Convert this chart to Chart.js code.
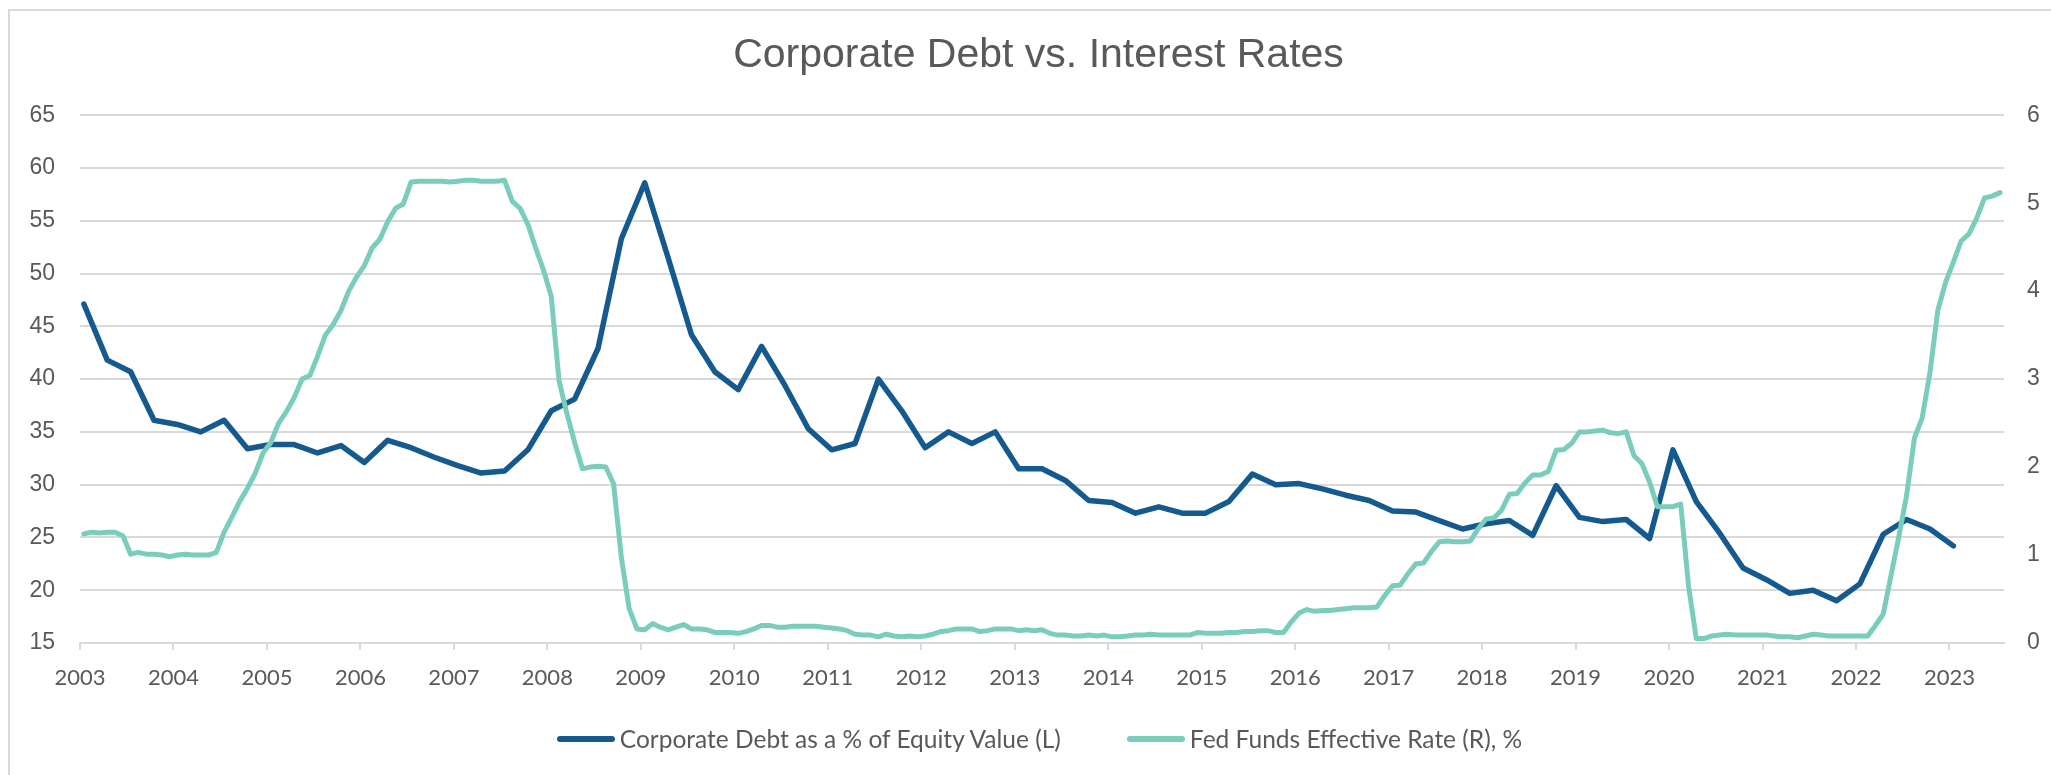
<!DOCTYPE html>
<html>
<head>
<meta charset="utf-8">
<title>Corporate Debt vs. Interest Rates</title>
<script src="https://cdn.jsdelivr.net/npm/chart.js@4.4.0/dist/chart.umd.min.js"></script>
<style>
  html, body { margin: 0; padding: 0; background: #fff; }
  #wrap { position: relative; width: 2051px; height: 775px; }
  #legend {
    position: absolute; left: 0; top: 724px; width: 2051px; box-sizing: border-box;
    padding-left: 28px; display: flex; justify-content: center;
    font: 24.5px Lato, "Open Sans", sans-serif; color: #595959; line-height: 30px;
  }
  #legend .item { display: flex; align-items: center; margin: 0 33px; white-space: nowrap; }
  #legend .swatch { width: 58px; height: 6px; border-radius: 3px; margin-right: 5px; }
</style>
</head>
<body>
<div id="wrap">
  <canvas id="chart" width="2051" height="775"></canvas>
  <div id="legend"></div>
</div>
<script>
// years shown on the x axis
const yearTicks = [2003, 2004, 2005, 2006, 2007, 2008, 2009, 2010, 2011, 2012, 2013,
                   2014, 2015, 2016, 2017, 2018, 2019, 2020, 2021, 2022, 2023];

// Corporate debt as a % of equity value, quarterly from Q1 2003 (left axis)
const debtPctEquity = [
  47.1, 41.8, 40.7, 36.1,   // 2003
  35.7, 35.0, 36.1, 33.4,   // 2004
  33.8, 33.8, 33.0, 33.7,   // 2005
  32.1, 34.2, 33.5, 32.6,   // 2006
  31.8, 31.1, 31.3, 33.3,   // 2007
  37.0, 38.1, 42.9, 53.3,   // 2008
  58.6, 51.5, 44.2, 40.7,   // 2009
  39.0, 43.1, 39.4, 35.3,   // 2010
  33.3, 33.9, 40.0, 37.0,   // 2011
  33.5, 35.0, 33.9, 35.0,   // 2012
  31.5, 31.5, 30.4, 28.5,   // 2013
  28.3, 27.3, 27.9, 27.3,   // 2014
  27.3, 28.4, 31.0, 30.0,   // 2015
  30.1, 29.6, 29.0, 28.5,   // 2016
  27.5, 27.4, 26.6, 25.8,   // 2017
  26.3, 26.6, 25.2, 29.9,   // 2018
  26.9, 26.5, 26.7, 24.9,   // 2019
  33.3, 28.4, 25.4, 22.1,   // 2020
  21.0, 19.7, 20.0, 19.0,   // 2021
  20.6, 25.3, 26.7, 25.8,   // 2022
  24.2                      // 2023
];

// Fed funds effective rate in %, monthly from Jan 2003 (right axis)
const fedFundsRate = [
  1.24, 1.26, 1.25, 1.26, 1.26, 1.22, 1.01, 1.03, 1.01, 1.01, 1.00, 0.98, // 2003
  1.00, 1.01, 1.00, 1.00, 1.00, 1.03, 1.26, 1.43, 1.61, 1.76, 1.93, 2.16, // 2004
  2.28, 2.50, 2.63, 2.79, 3.00, 3.04, 3.26, 3.50, 3.62, 3.78, 4.00, 4.16, // 2005
  4.29, 4.49, 4.59, 4.79, 4.94, 4.99, 5.24, 5.25, 5.25, 5.25, 5.25, 5.24, // 2006
  5.25, 5.26, 5.26, 5.25, 5.25, 5.25, 5.26, 5.02, 4.94, 4.76, 4.49, 4.24, // 2007
  3.94, 2.98, 2.61, 2.28, 1.98, 2.00, 2.01, 2.00, 1.81, 0.97, 0.39, 0.16, // 2008
  0.15, 0.22, 0.18, 0.15, 0.18, 0.21, 0.16, 0.16, 0.15, 0.12, 0.12, 0.12, // 2009
  0.11, 0.13, 0.16, 0.20, 0.20, 0.18, 0.18, 0.19, 0.19, 0.19, 0.19, 0.18, // 2010
  0.17, 0.16, 0.14, 0.10, 0.09, 0.09, 0.07, 0.10, 0.08, 0.07, 0.08, 0.07, // 2011
  0.08, 0.10, 0.13, 0.14, 0.16, 0.16, 0.16, 0.13, 0.14, 0.16, 0.16, 0.16, // 2012
  0.14, 0.15, 0.14, 0.15, 0.11, 0.09, 0.09, 0.08, 0.08, 0.09, 0.08, 0.09, // 2013
  0.07, 0.07, 0.08, 0.09, 0.09, 0.10, 0.09, 0.09, 0.09, 0.09, 0.09, 0.12, // 2014
  0.11, 0.11, 0.11, 0.12, 0.12, 0.13, 0.13, 0.14, 0.14, 0.12, 0.12, 0.24, // 2015
  0.34, 0.38, 0.36, 0.37, 0.37, 0.38, 0.39, 0.40, 0.40, 0.40, 0.41, 0.54, // 2016
  0.65, 0.66, 0.79, 0.90, 0.91, 1.04, 1.15, 1.16, 1.15, 1.15, 1.16, 1.30, // 2017
  1.41, 1.42, 1.51, 1.69, 1.70, 1.82, 1.91, 1.91, 1.95, 2.19, 2.20, 2.27, // 2018
  2.40, 2.40, 2.41, 2.42, 2.39, 2.38, 2.40, 2.13, 2.04, 1.83, 1.55, 1.55, // 2019
  1.55, 1.58, 0.65, 0.05, 0.05, 0.08, 0.09, 0.10, 0.09, 0.09, 0.09, 0.09, // 2020
  0.09, 0.08, 0.07, 0.07, 0.06, 0.08, 0.10, 0.09, 0.08, 0.08, 0.08, 0.08, // 2021
  0.08, 0.08, 0.20, 0.33, 0.77, 1.21, 1.68, 2.33, 2.56, 3.08, 3.78, 4.10, // 2022
  4.33, 4.57, 4.65, 4.83, 5.06, 5.08, 5.12                                // 2023
];

const startYear = 2003;
const axisEnd = 2023 + 7 / 12; // end of July 2023

// month index (0 = Jan 2003) -> decimal year, placed mid-month
function monthToYear(m) {
  return startYear + (m + 0.5) / 12;
}

const debtPoints = debtPctEquity.map((v, i) => ({ x: monthToYear(i * 3), y: v }));
const fedPoints = fedFundsRate.map((v, i) => ({ x: monthToYear(i), y: v }));

const gray = '#595959';
const gridGray = '#d9d9d9';

// thin frame along the top and left edge of the figure
const framePlugin = {
  id: 'frame',
  beforeDraw(chart) {
    const ctx = chart.ctx;
    ctx.save();
    ctx.strokeStyle = gridGray;
    ctx.lineWidth = 2;
    ctx.beginPath();
    ctx.moveTo(9, chart.height);
    ctx.lineTo(9, 10);
    ctx.lineTo(chart.width, 10);
    ctx.stroke();
    ctx.restore();
  }
};

// html legend under the plot, built from the datasets
const htmlLegend = {
  id: 'htmlLegend',
  afterUpdate(chart) {
    const box = document.getElementById('legend');
    box.innerHTML = '';
    chart.data.datasets.forEach(ds => {
      const item = document.createElement('div');
      item.className = 'item';
      const swatch = document.createElement('span');
      swatch.className = 'swatch';
      swatch.style.background = ds.borderColor;
      const text = document.createElement('span');
      text.textContent = ds.label;
      item.appendChild(swatch);
      item.appendChild(text);
      box.appendChild(item);
    });
  }
};

new Chart(document.getElementById('chart'), {
  type: 'line',
  data: {
    datasets: [
      {
        label: 'Corporate Debt as a % of Equity Value (L)',
        data: debtPoints,
        yAxisID: 'yLeft',
        borderColor: '#155a8e',
        borderWidth: 5.5,
        borderJoinStyle: 'round',
        borderCapStyle: 'round',
        pointRadius: 0,
        order: 1
      },
      {
        label: 'Fed Funds Effective Rate (R), %',
        data: fedPoints,
        yAxisID: 'yRight',
        borderColor: '#7acdbd',
        borderWidth: 5,
        borderJoinStyle: 'round',
        borderCapStyle: 'round',
        pointRadius: 0,
        order: 0
      }
    ]
  },
  options: {
    responsive: false,
    animation: false,
    layout: { padding: { top: 0, left: 26, right: 0, bottom: 66 } },
    plugins: {
      title: {
        display: true,
        text: 'Corporate Debt vs. Interest Rates',
        color: gray,
        font: { family: '"Liberation Sans", Arial, sans-serif', size: 41, weight: 'normal' },
        padding: { top: 31, bottom: 35 }
      },
      legend: { display: false },
      tooltip: { enabled: false }
    },
    scales: {
      x: {
        type: 'linear',
        min: startYear,
        max: axisEnd,
        afterBuildTicks: scale => { scale.ticks = yearTicks.map(y => ({ value: y })); },
        afterFit: scale => { scale.height = 66; },
        grid: { drawOnChartArea: false, drawTicks: true, tickLength: 7, color: gridGray, lineWidth: 2 },
        border: { display: true, color: gridGray, width: 2 },
        ticks: {
          color: gray,
          font: { family: 'Lato, "Open Sans", sans-serif', size: 22 },
          padding: 15,
          maxRotation: 0,
          autoSkip: false,
          callback: v => String(v)
        }
      },
      yLeft: {
        position: 'left',
        min: 15,
        max: 65,
        afterFit: scale => { scale.width = 54; },
        grid: { color: gridGray, lineWidth: 2, drawTicks: false },
        border: { display: false },
        ticks: {
          stepSize: 5,
          color: gray,
          font: { family: '"Liberation Sans", Arial, sans-serif', size: 23 },
          padding: 25
        }
      },
      yRight: {
        position: 'right',
        min: 0,
        max: 6,
        afterFit: scale => { scale.width = 47; },
        grid: { drawOnChartArea: false, drawTicks: false },
        border: { display: false },
        ticks: {
          stepSize: 1,
          color: gray,
          font: { family: '"Liberation Sans", Arial, sans-serif', size: 23 },
          padding: 23
        }
      }
    }
  },
  plugins: [framePlugin, htmlLegend]
});
</script>
</body>
</html>
